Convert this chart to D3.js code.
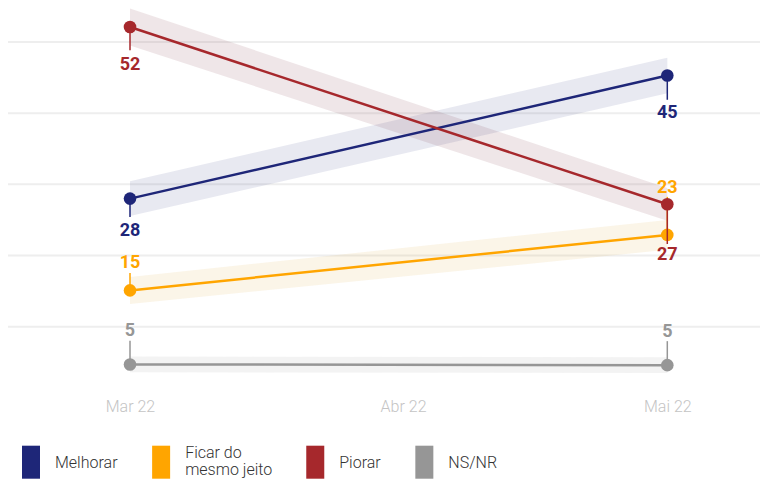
<!DOCTYPE html>
<html><head><meta charset="utf-8">
<script src="https://cdn.jsdelivr.net/npm/d3@7"></script>
<style>
body{margin:0;background:#fff;}
svg{display:block;font-family:Roboto,"Noto Sans",sans-serif;}
</style>
</head><body>
<svg id="c" width="763" height="480"></svg>
<script>
// ---- data ----
const dates = ["2022-03-01", "2022-05-01"];
const tickDates = ["2022-03-01", "2022-04-01", "2022-05-01"];
const tickLabels = ["Mar 22", "Abr 22", "Mai 22"];
const gridValues = [10, 20, 30, 40, 50];
const seriesNames = ["Melhorar", "Ficar do mesmo jeito", "Piorar", "NS/NR"];
const legendLines = [["Melhorar"], ["Ficar do", "mesmo jeito"], ["Piorar"], ["NS/NR"]];
const melhorar = [28.0, 45.3];
const ficar = [15.1, 22.9];
const piorar = [52.1, 27.2];
const nsnr = [4.7, 4.6];
const melhorarLow = [25.55, 42.8], melhorarHigh = [30.45, 47.8];
const ficarLow = [13.2, 20.8], ficarHigh = [17.0, 25.0];
const piorarLow = [49.5, 24.9], piorarHigh = [54.7, 29.5];
const nsnrLow = [3.6, 3.5], nsnrHigh = [5.8, 5.7];

// ---- style / layout ----
const colors = ["#1e2678", "#ffa500", "#a6282c", "#969696"];
const bandColors = ["#1e2a78", "#d9a020", "#7a3040", "#999999"];
const bandOpacity = [0.1, 0.1, 0.12, 0.12];
// label placement per series per date: baseline offset and stem end offset (px from point)
const labelLayout = [
  [{dy: 37.4, stem: 18.4}, {dy: 43, stem: 24.3}],
  [{dy: -22.4, stem: -17.4}, {dy: -42.3, stem: -38}],
  [{dy: 42.6, stem: 23.3}, {dy: 55.7, stem: 39.7}],
  [{dy: -28.6, stem: -23.6}, {dy: -28.3, stem: -24}]
];

const values = [melhorar, ficar, piorar, nsnr];
const lows = [melhorarLow, ficarLow, piorarLow, nsnrLow];
const highs = [melhorarHigh, ficarHigh, piorarHigh, nsnrHigh];
const parse = d3.timeParse("%Y-%m-%d");
const series = seriesNames.map((name, i) => ({
  name, color: colors[i], band: bandColors[i], bandOp: bandOpacity[i],
  pts: dates.map((d, j) => ({date: parse(d), v: values[i][j], lo: lows[i][j], hi: highs[i][j], lab: labelLayout[i][j]}))
}));

const svg = d3.select("#c");
const x = d3.scaleTime().domain([parse(dates[0]), parse(dates[1])]).range([130, 667.3]);
const y = d3.scaleLinear().domain([0, 50]).range([397.9, 42]);

// gridlines
svg.append("g").selectAll("line").data(gridValues).join("line")
  .attr("x1", 8).attr("x2", 760)
  .attr("y1", d => y(d)).attr("y2", d => y(d))
  .attr("stroke", "#eeeeee").attr("stroke-width", 2);

// x axis
const xAxis = d3.axisBottom(x)
  .tickValues(tickDates.map(parse))
  .tickFormat((d, i) => tickLabels[i])
  .tickSize(0).tickPadding(0);
const gx = svg.append("g").attr("transform", "translate(0,412)").call(xAxis);
gx.select(".domain").remove();
gx.selectAll("text").attr("font-size", 16).attr("font-weight", 300)
  .attr("fill", "#c4c4c4").attr("font-family", "Roboto, sans-serif").attr("dy", 0);

// bands
const area = d3.area().x(d => x(d.date)).y0(d => y(d.lo)).y1(d => y(d.hi));
svg.append("g").selectAll("path").data(series).join("path")
  .attr("d", s => area(s.pts))
  .attr("fill", s => s.band).attr("fill-opacity", s => s.bandOp);

// lines, stems, points, labels
const line = d3.line().x(d => x(d.date)).y(d => y(d.v));
series.forEach(s => {
  const g = svg.append("g");
  g.append("path").attr("d", line(s.pts)).attr("fill", "none")
    .attr("stroke", s.color).attr("stroke-width", 2.5);
  s.pts.forEach(p => {
    const px = x(p.date), py = y(p.v);
    g.append("line").attr("x1", px).attr("x2", px)
      .attr("y1", py).attr("y2", py + p.lab.stem)
      .attr("stroke", s.color).attr("stroke-width", 1.5);
  });
  g.selectAll("circle").data(s.pts).join("circle")
    .attr("cx", d => x(d.date)).attr("cy", d => y(d.v)).attr("r", 6.3)
    .attr("fill", s.color);
  g.selectAll("text").data(s.pts).join("text")
    .attr("x", d => x(d.date)).attr("y", d => y(d.v) + d.lab.dy)
    .attr("text-anchor", "middle").attr("font-size", 18).attr("font-weight", 700)
    .attr("fill", s.color).text(d => Math.round(d.v));
});

// legend
const leg = svg.append("g");
let lx = 22;
series.forEach((s, i) => {
  leg.append("rect").attr("x", lx).attr("y", 445.7).attr("width", 18).attr("height", 33).attr("fill", s.color);
  const lines = legendLines[i];
  const t = leg.append("text").attr("font-size", 16).attr("font-weight", 300).attr("fill", "#333");
  if (lines.length === 1) {
    t.append("tspan").attr("x", lx + 33).attr("y", 467.5).text(lines[0]);
  } else {
    t.append("tspan").attr("x", lx + 33).attr("y", 457.5).text(lines[0]);
    t.append("tspan").attr("x", lx + 33).attr("y", 475).text(lines[1]);
  }
  const w = t.node().getBBox().width;
  lx = lx + 33 + w + 34;
});
</script>
</body></html>
